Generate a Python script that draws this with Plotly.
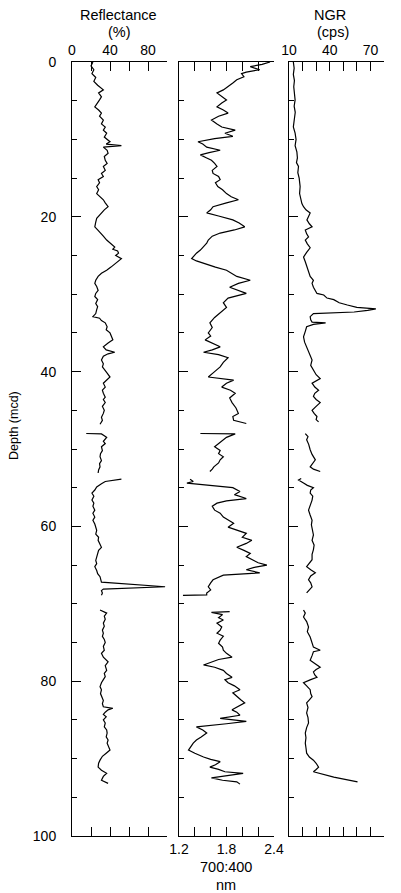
import plotly.graph_objects as go

# ---------------- data (depth in mcd, None = core gap) ----------------
refl_depth = [0.0, 0.5, 1.0, 1.5, 2.0, 2.5, 3.0, 3.6, 4.0, 4.5, 4.9, 5.3, 5.8, 6.2, 6.6, 7.0, 7.5, 8.0, 8.4, 8.8,
              9.2, 9.7, 10.3, 10.6, 10.8, 11.0, 11.4, 11.8, 12.2, 12.7, 13.1, 13.5, 14.0, 14.4, 14.8, 15.2, 15.6, 16.1,
              16.5, 17.0, 17.4, 17.8, 18.2, 18.7, 19.1, 19.5, 19.9, 20.2, 20.7, 21.3, 21.7, 22.1, 22.5, 23.0, 23.4,
              23.9, 24.2, 24.4, 24.7, 25.0, 25.4, 25.7, 26.0, 26.5, 26.9, 27.3, 27.7, 28.2, 28.6, 29.0, 29.5, 29.9,
              30.3, 30.7, 31.2, 31.6, 32.0, 32.5, 32.9, 33.1, 33.4, 33.7, 34.2, 34.6, 35.0, 35.4, 35.9, 36.3, 36.8,
              37.2, 37.5, 37.7, 38.0, 38.5, 39.0, 39.4, 39.8, 40.2, 40.7, 41.1, 41.5, 42.0, 42.4, 42.8, 43.3, 43.6,
              44.0, 44.5, 45.0, 45.4, 45.9, 46.3, 46.8,
              None,
              48.0, 48.05, 48.3, 48.5, 49.0, 49.3, 49.7, 50.2, 50.6, 51.0, 51.5, 51.9, 52.3, 52.7, 53.1,
              None,
              53.9, 54.2, 54.5, 54.9, 55.3, 55.7, 56.1, 56.6, 57.0, 57.4, 57.9, 58.3, 58.8, 59.2, 59.7, 60.1, 60.5,
              61.0, 61.4, 61.8, 62.3, 62.7, 63.1, 63.5, 64.0, 64.4, 64.8, 65.2, 65.7, 66.1, 66.5, 67.2, 67.8, 68.1,
              68.3, 68.6, 68.9,
              None,
              70.8, 71.0, 71.2, 71.6, 72.0, 72.5, 72.9, 73.4, 73.8, 74.2, 74.6, 75.0, 75.5, 76.0, 76.4, 76.9, 77.2,
              77.5, 78.0, 78.6, 79.0, 79.4, 79.8, 80.2, 80.7, 81.1, 81.6, 82.0, 82.5, 82.9, 83.3, 83.5, 83.7, 84.0,
              84.3, 84.6, 85.0, 85.4, 85.9, 86.3, 86.7, 87.2, 87.6, 88.0, 88.5, 88.9, 89.3, 89.7, 90.2, 90.6, 91.1,
              91.5, 91.9, 92.3, 92.8, 93.0, 93.2]
refl_value = [22, 20, 23, 21, 25, 23, 27, 33, 28, 31, 29, 27, 24, 28, 31, 29, 33, 31, 35, 33,
              36.5, 34, 40, 36, 52, 33, 37, 38, 34, 35, 37, 33, 35, 31, 33, 27.5, 29, 26,
              28, 26, 30, 33, 35, 38, 34, 31, 28, 26, 25, 24, 27, 29.5, 33, 36.5, 40,
              45, 43, 48, 49, 46, 52, 49, 47, 41, 36.5, 31, 27.5, 25, 24, 26, 27.5, 25,
              24, 27, 25, 27, 26, 25, 22, 29, 31, 35, 37, 36, 40, 41, 43, 38, 33,
              36, 45, 38, 33, 31, 33, 32, 35, 37, 40, 36, 33, 35, 32, 33, 35, 33,
              35, 32, 34, 33, 31, 32, 29.5,
              None,
              15, 31, 34, 36.5, 33, 35, 31, 32, 30, 29.5, 31, 29, 29.5, 28, 27.5,
              None,
              52, 35, 31, 26, 24, 21, 23, 21, 23, 22, 24, 22, 24, 22, 24, 25, 26,
              25, 28, 27.5, 29, 31, 28, 27, 26, 25, 26, 24, 26, 27, 29.5, 31, 98, 33,
              31, 32, 31,
              None,
              29.5, 33, 36.5, 34, 35, 33, 34, 32, 33, 32, 34, 35, 33, 34, 31, 33, 36,
              38, 35, 36.5, 34, 35, 33, 31, 29.5, 31, 30, 31, 33, 32, 33, 43, 38, 35,
              33, 36, 33, 35, 34, 36.5, 37, 36, 38, 37, 39, 40, 36, 32, 29.5, 28, 27.5,
              31, 36.5, 33, 31, 35, 38]

ratio_depth = [0.0, 0.3, 0.6, 1.0, 1.3, 1.5, 1.9, 2.3, 2.7, 3.2, 3.6, 4.0, 4.5, 4.9, 5.3, 5.8, 6.2, 6.6, 7.0, 7.5,
               8.0, 8.4, 8.8, 9.2, 9.6, 9.9, 10.3, 10.6, 11.0, 11.4, 11.7, 12.0, 12.4, 12.7, 13.1, 13.5, 14.0, 14.4,
               14.8, 15.2, 15.6, 16.1, 16.5, 17.0, 17.4, 17.8, 18.2, 18.7, 19.1, 19.5, 19.9, 20.4, 20.8, 21.3, 21.7,
               22.1, 22.5, 23.0, 23.4, 23.9, 24.3, 24.7, 25.0, 25.4, 25.7, 26.0, 26.5, 26.9, 27.3, 27.7, 28.2, 28.6,
               29.1, 29.5, 29.9, 30.5, 31.1, 31.7, 32.4, 33.0, 33.7, 34.3, 35.0, 35.4, 35.9, 36.3, 36.8, 37.2, 37.5,
               37.8, 38.2, 38.8, 39.4, 40.0, 40.7, 41.1, 41.5, 42.0, 42.4, 42.8, 43.4, 44.0, 44.7, 45.4, 45.8, 46.3,
               46.5, 46.7,
               None,
               48.0, 48.05, 48.5, 48.9, 49.3, 49.7, 50.2, 50.6, 51.0, 51.4, 51.8, 52.3, 52.6, 52.9,
               None,
               53.9, 54.2, 54.4, 54.6, 55.0, 55.5, 55.9, 56.4, 56.7, 57.0, 57.4, 57.9, 58.3, 58.8, 59.2, 59.6, 60.1,
               60.5, 60.9, 61.4, 61.8, 62.2, 62.7, 63.1, 63.5, 63.9, 64.3, 64.7, 65.0, 65.3, 65.6, 66.0, 66.3, 66.6,
               66.9, 67.3, 67.8, 68.2, 68.6, 68.85, 68.9,
               None,
               71.0, 71.1, 71.4, 71.8, 72.1, 72.5, 73.0, 73.4, 73.8, 74.2, 74.7, 75.1, 75.6, 76.0, 76.4, 76.9, 77.2,
               77.5, 77.9, 78.2, 78.6, 79.0, 79.5, 79.8, 80.2, 80.6, 81.1, 81.5, 82.0, 82.4, 82.8, 83.2, 83.7, 84.0,
               84.4, 84.8, 85.2, 85.5, 85.9, 86.3, 86.7, 87.2, 87.6, 88.0, 88.5, 88.9, 89.3, 89.8, 90.1, 90.4, 90.8,
               91.1, 91.4, 91.7, 91.9, 92.2, 92.5, 92.8, 93.0, 93.3]
ratio_value = [2.35, 2.25, 2.10, 2.22, 2.05, 1.99, 2.02, 1.93, 1.88, 1.82, 1.76, 1.68, 1.75, 1.80, 1.74, 1.68, 1.76,
               1.82, 1.70, 1.61, 1.68, 1.74, 1.91, 1.78, 1.88, 1.65, 1.44, 1.50, 1.55, 1.72, 1.58, 1.47, 1.55, 1.61,
               1.65, 1.68, 1.62, 1.63, 1.70, 1.72, 1.66, 1.69, 1.75, 1.80, 1.86, 1.95, 1.80, 1.63, 1.60, 1.55, 1.70,
               1.88, 1.96, 2.03, 1.90, 1.72, 1.62, 1.57, 1.55, 1.51, 1.47, 1.42, 1.39, 1.36, 1.42, 1.50, 1.66, 1.80,
               1.86, 1.93, 2.10, 1.95, 1.84, 1.95, 2.05, 1.82, 1.76, 1.80, 1.72, 1.65, 1.59, 1.62, 1.57, 1.60, 1.53,
               1.62, 1.72, 1.62, 1.51, 1.70, 1.82, 1.76, 1.72, 1.65, 1.57, 1.89, 1.80, 1.74, 1.85, 1.91, 1.84, 1.87,
               1.92, 1.95, 1.88, 1.89, 1.96, 2.05,
               None,
               1.47, 1.91, 1.80, 1.75, 1.70, 1.65, 1.72, 1.70, 1.76, 1.72, 1.70, 1.64, 1.62, 1.59,
               None,
               1.34, 1.38, 1.30, 1.50, 1.88, 1.97, 1.90, 2.05, 1.80, 1.68, 1.62, 1.65, 1.72, 1.76, 1.82, 1.89, 1.82,
               1.95, 2.05, 2.00, 2.12, 2.05, 1.93, 2.02, 2.10, 2.05, 2.12, 2.20, 2.31, 2.15, 2.05, 2.22, 1.76, 1.70,
               1.63, 1.60, 1.57, 1.60, 1.55, 1.55, 1.25,
               None,
               1.84, 1.61, 1.75, 1.70, 1.76, 1.68, 1.74, 1.72, 1.68, 1.76, 1.72, 1.70, 1.75, 1.76, 1.80, 1.87, 1.70,
               1.61, 1.51, 1.65, 1.76, 1.80, 1.87, 1.78, 1.82, 1.90, 1.97, 1.88, 1.93, 1.98, 2.03, 1.95, 1.87, 1.93,
               1.97, 1.72, 2.05, 1.80, 1.42, 1.50, 1.55, 1.48, 1.42, 1.38, 1.34, 1.32, 1.40, 1.51, 1.60, 1.72, 1.66,
               1.59, 1.70, 1.78, 2.01, 1.80, 1.61, 1.75, 1.93, 1.97]

ngr_depth = [0.0, 0.8, 1.6, 2.4, 3.2, 4.0, 4.9, 5.7, 6.5, 7.3, 8.0, 8.4, 9.2, 10.0, 10.8, 11.6, 12.4, 13.0, 13.5,
             14.3, 15.0, 16.1, 17.0, 17.8, 18.3, 18.7, 19.1, 19.5, 20.0, 20.4, 20.9, 21.3, 21.7, 22.2, 22.6, 23.0,
             23.5, 24.0, 24.6, 25.2, 25.8, 26.5, 27.1, 27.7, 28.2, 28.6, 29.1, 29.5, 29.9, 30.1, 30.5, 30.7, 31.1,
             31.4, 31.7, 31.9, 32.1, 32.3, 32.5, 32.9, 33.3, 33.6, 33.7, 33.9, 34.2, 34.8, 35.5, 36.2, 36.8, 37.6,
             38.5, 39.2, 39.8, 40.4, 40.9, 41.2, 41.5, 42.0, 42.4, 42.8, 43.2, 43.6, 44.0, 44.5, 45.0, 45.4, 45.8,
             46.2, 46.5,
             None,
             48.0, 48.4, 48.8, 49.4, 50.1, 50.7, 51.4, 51.8, 52.3, 52.6, 52.9,
             None,
             53.8, 54.0, 54.4, 54.7, 55.0, 55.3, 55.7, 56.1, 56.6, 57.2, 57.9, 58.5, 59.2, 59.8, 60.5, 61.1, 61.8,
             62.4, 63.0, 63.6, 64.3, 64.8, 65.2, 65.6, 66.0, 66.4, 66.9, 67.3, 67.8, 68.2, 68.6,
             None,
             70.8, 71.2, 71.7, 72.3, 73.0, 73.6, 74.3, 74.9, 75.6, 76.0, 76.2, 76.7, 77.3, 77.7, 78.2, 78.5, 78.8,
             79.2, 79.5, 79.8, 80.2, 80.6, 81.1, 81.6, 82.0, 82.4, 82.8, 83.4, 84.1, 84.7, 85.4, 86.0, 86.7, 87.3,
             88.0, 88.6, 89.3, 89.8, 90.2, 90.6, 91.1, 91.4, 91.7, 92.4, 93.0]
ngr_value = [13.2, 13.8, 13.2, 14.0, 13.5, 14.2, 14.5, 13.8, 14.6, 14.0, 13.5, 13.2, 14.5, 15.2, 14.5, 15.8, 16.2,
             15.5, 17, 16.5, 17.5, 18.2, 17.8, 18.7, 19.5, 20.7, 22.5, 25.6, 24.5, 23.2, 25, 27, 22, 23, 24.4, 22,
             23.5, 25.6, 23, 20.7, 22, 23.2, 24.5, 25.6, 28, 27, 28, 29.4, 30.6, 35.6, 38, 43, 47,
             53, 60, 74, 68, 58, 28, 25.6, 26, 27, 37, 28, 23, 22, 20.7, 21.5, 23, 24.5,
             27, 26, 28, 30, 33, 30, 27, 29, 31.8, 29, 28, 30, 33, 30, 27, 28.5, 30.6,
             30, 31.8,
             None,
             22, 24, 23, 24.5, 25.6, 27, 29.4, 27.5, 25.6, 28, 33,
             None,
             19, 17, 20.7, 23.5, 28, 26, 25.6, 27.5, 27, 26, 24.4, 25.5, 27, 26.5, 27.6, 28, 27,
             28.5, 28, 27, 27, 25, 23, 26, 29.4, 26, 24.4, 26, 27, 25, 23,
             None,
             20.7, 22, 20.7, 23, 24.4, 23.5, 25.6, 26.5, 28, 33, 28, 27, 25.6, 29, 33, 30, 28,
             29, 30.6, 26, 20.7, 23, 25.6, 26, 27, 25, 23, 24, 23, 24, 24.4, 23, 22, 22.5,
             22, 22.5, 23, 25, 28, 30, 31.8, 30, 28, 43, 60.5]

refl_ticks = [0, 20, 40, 60, 80, 100]
refl_ticktext = ["0", "", "40", "", "80", ""]
ratio_ticks = [1.2, 1.4, 1.6, 1.8, 2.0, 2.2, 2.4]
ratio_ticktext = ["1.2", "", "", "1.8", "", "", "2.4"]
ngr_ticks = [10, 20, 30, 40, 50, 60, 70, 80]
ngr_ticktext = ["10", "", "", "40", "", "", "70", ""]

# ---------------- layout helpers ----------------
# The page body has an 8 px margin, so the figure is 8 px smaller than the window
# and all pixel positions (measured on the window) are offset by 8.
OFF = 8
W, H = 401 - OFF, 893 - OFF
FONT = "Liberation Sans, Arial, Helvetica, sans-serif"


def fx(p):
    return (p - OFF) / W


def fy(p):
    return 1 - (p - OFF) / H


ydom = [fy(836), fy(62)]
line_style = dict(color="black", width=1.2)

fig = go.Figure()
fig.add_trace(go.Scatter(x=refl_value, y=refl_depth, mode="lines", line=line_style,
                         xaxis="x", yaxis="y", connectgaps=False, showlegend=False))
fig.add_trace(go.Scatter(x=ratio_value, y=ratio_depth, mode="lines", line=line_style,
                         xaxis="x2", yaxis="y2", connectgaps=False, showlegend=False))
fig.add_trace(go.Scatter(x=ngr_value, y=ngr_depth, mode="lines", line=line_style,
                         xaxis="x3", yaxis="y3", connectgaps=False, showlegend=False))

common_x = dict(showline=True, linecolor="black", linewidth=1, mirror="ticks", ticks="inside",
                ticklen=9, tickcolor="black", tickwidth=1, showgrid=False, zeroline=False,
                automargin=False,
                tickfont=dict(size=14, color="black", family=FONT), fixedrange=True)
common_y = dict(range=[100, 0], domain=ydom, showline=True, linecolor="black", linewidth=1,
                ticks="inside", ticklen=9, tickcolor="black", tickwidth=1, tick0=0, dtick=20,
                minor=dict(dtick=5, ticks="inside", ticklen=5, tickcolor="black", tickwidth=1, showgrid=False),
                showgrid=False, zeroline=False, fixedrange=True, automargin=False,
                tickfont=dict(size=14, color="black", family=FONT))

fig.update_layout(
    width=W, height=H,
    margin=dict(l=0, r=0, t=0, b=0, autoexpand=False),
    paper_bgcolor="white", plot_bgcolor="white",
    font=dict(family=FONT, color="black"),
    xaxis=dict(common_x, domain=[fx(72), fx(167)], range=[0, 100], side="top", anchor="y",
               tickmode="array", tickvals=refl_ticks, ticktext=refl_ticktext),
    xaxis2=dict(common_x, domain=[fx(179), fx(274)], range=[1.2, 2.4], side="bottom", anchor="y2",
                tickmode="array", tickvals=ratio_ticks, ticktext=ratio_ticktext),
    xaxis3=dict(common_x, domain=[fx(289), fx(384)], range=[10, 80], side="top", anchor="y3",
                tickmode="array", tickvals=ngr_ticks, ticktext=ngr_ticktext),
    yaxis=dict(common_y, anchor="x", showticklabels=True, ticklabelstandoff=12),
    yaxis2=dict(common_y, anchor="x2", showticklabels=False),
    yaxis3=dict(common_y, anchor="x3", showticklabels=False),
)

tfont = dict(size=14.5, color="black", family=FONT)
ann = [
    dict(text="Reflectance", x=fx(118), y=fy(15)),
    dict(text="(%)", x=fx(119.5), y=fy(32)),
    dict(text="NGR", x=fx(330), y=fy(15)),
    dict(text="(cps)", x=fx(333), y=fy(32)),
    dict(text="700:400", x=fx(226), y=fy(867)),
    dict(text="nm", x=fx(226), y=fy(885)),
]
for a in ann:
    fig.add_annotation(xref="paper", yref="paper", showarrow=False, font=tfont,
                       xanchor="center", yanchor="middle", **a)
fig.add_annotation(text="Depth (mcd)", xref="paper", yref="paper", x=fx(14), y=fy(426),
                   showarrow=False, textangle=-90, font=dict(size=12.5, color="black", family=FONT),
                   xanchor="center", yanchor="middle")

fig.write_html("out.html")
